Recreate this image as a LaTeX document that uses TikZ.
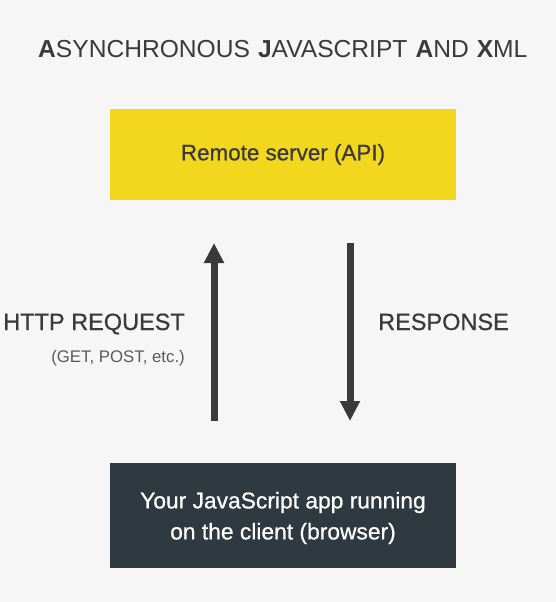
\documentclass[tikz,border=0pt]{standalone}
\usepackage{fontspec}
\setmainfont{Liberation Sans}
\newfontfamily\medfont[FakeBold=0.7]{Liberation Sans}
\usetikzlibrary{arrows.meta}
\definecolor{bg}{HTML}{F6F6F6}
\definecolor{ylw}{HTML}{F2D71E}
\definecolor{drk}{HTML}{2E3A40}
\definecolor{txt}{HTML}{3A3A3A}
\definecolor{lite}{HTML}{5A5A5A}
\tikzset{
  box/.style={minimum width=346pt, minimum height=#1, inner sep=0pt, outer sep=0pt, align=center},
  bigarrow/.style={draw=txt, line width=7pt, -{Triangle[width=19pt,length=20pt]}},
  lbl/.style={inner sep=0pt, text=txt, font=\medfont\fontsize{23.5}{28}\selectfont},
}
\begin{document}
\begin{tikzpicture}[x=1pt,y=-1pt]
\useasboundingbox[fill=bg] (0,0) rectangle (556,602);
\node[anchor=base west, inner sep=0pt, text=txt, font=\fontsize{24.6}{30}\selectfont] (title) at (38,57)
  {\textbf{A}SYNCHRONOUS\hspace{8pt}\textbf{J}AVASCRIPT\hspace{8pt}\textbf{A}ND\hspace{8pt}\textbf{X}ML};
\node[box=91pt, fill=ylw, text=txt, font=\medfont\fontsize{22.4}{26}\selectfont] (server) at (283,154.5) {Remote server (API)};
\node[box=105pt, fill=drk] (client) at (283,515.5) {};
\node[inner sep=0pt, align=center, text=white, font=\medfont\fontsize{22.8}{31}\selectfont] (clienttext) at ([yshift=-2.5pt]client.center) {Your JavaScript app running\\on the client (browser)};
\coordinate (upS) at (214,421);
\coordinate (upE) at (214,243);
\coordinate (dnS) at (350,243);
\coordinate (dnE) at (350,421);
\draw[bigarrow] (upS) -- (upE);
\draw[bigarrow] (dnS) -- (dnE);
\node[lbl, anchor=base east] (req) at (185,330) {HTTP REQUEST};
\node[anchor=base east, inner sep=0pt, text=lite, font=\fontsize{16.8}{20}\selectfont] (reqsub) at (185,362) {(GET, POST, etc.)};
\node[lbl, anchor=base west] (resp) at (378,330) {RESPONSE};
\end{tikzpicture}
\end{document}
